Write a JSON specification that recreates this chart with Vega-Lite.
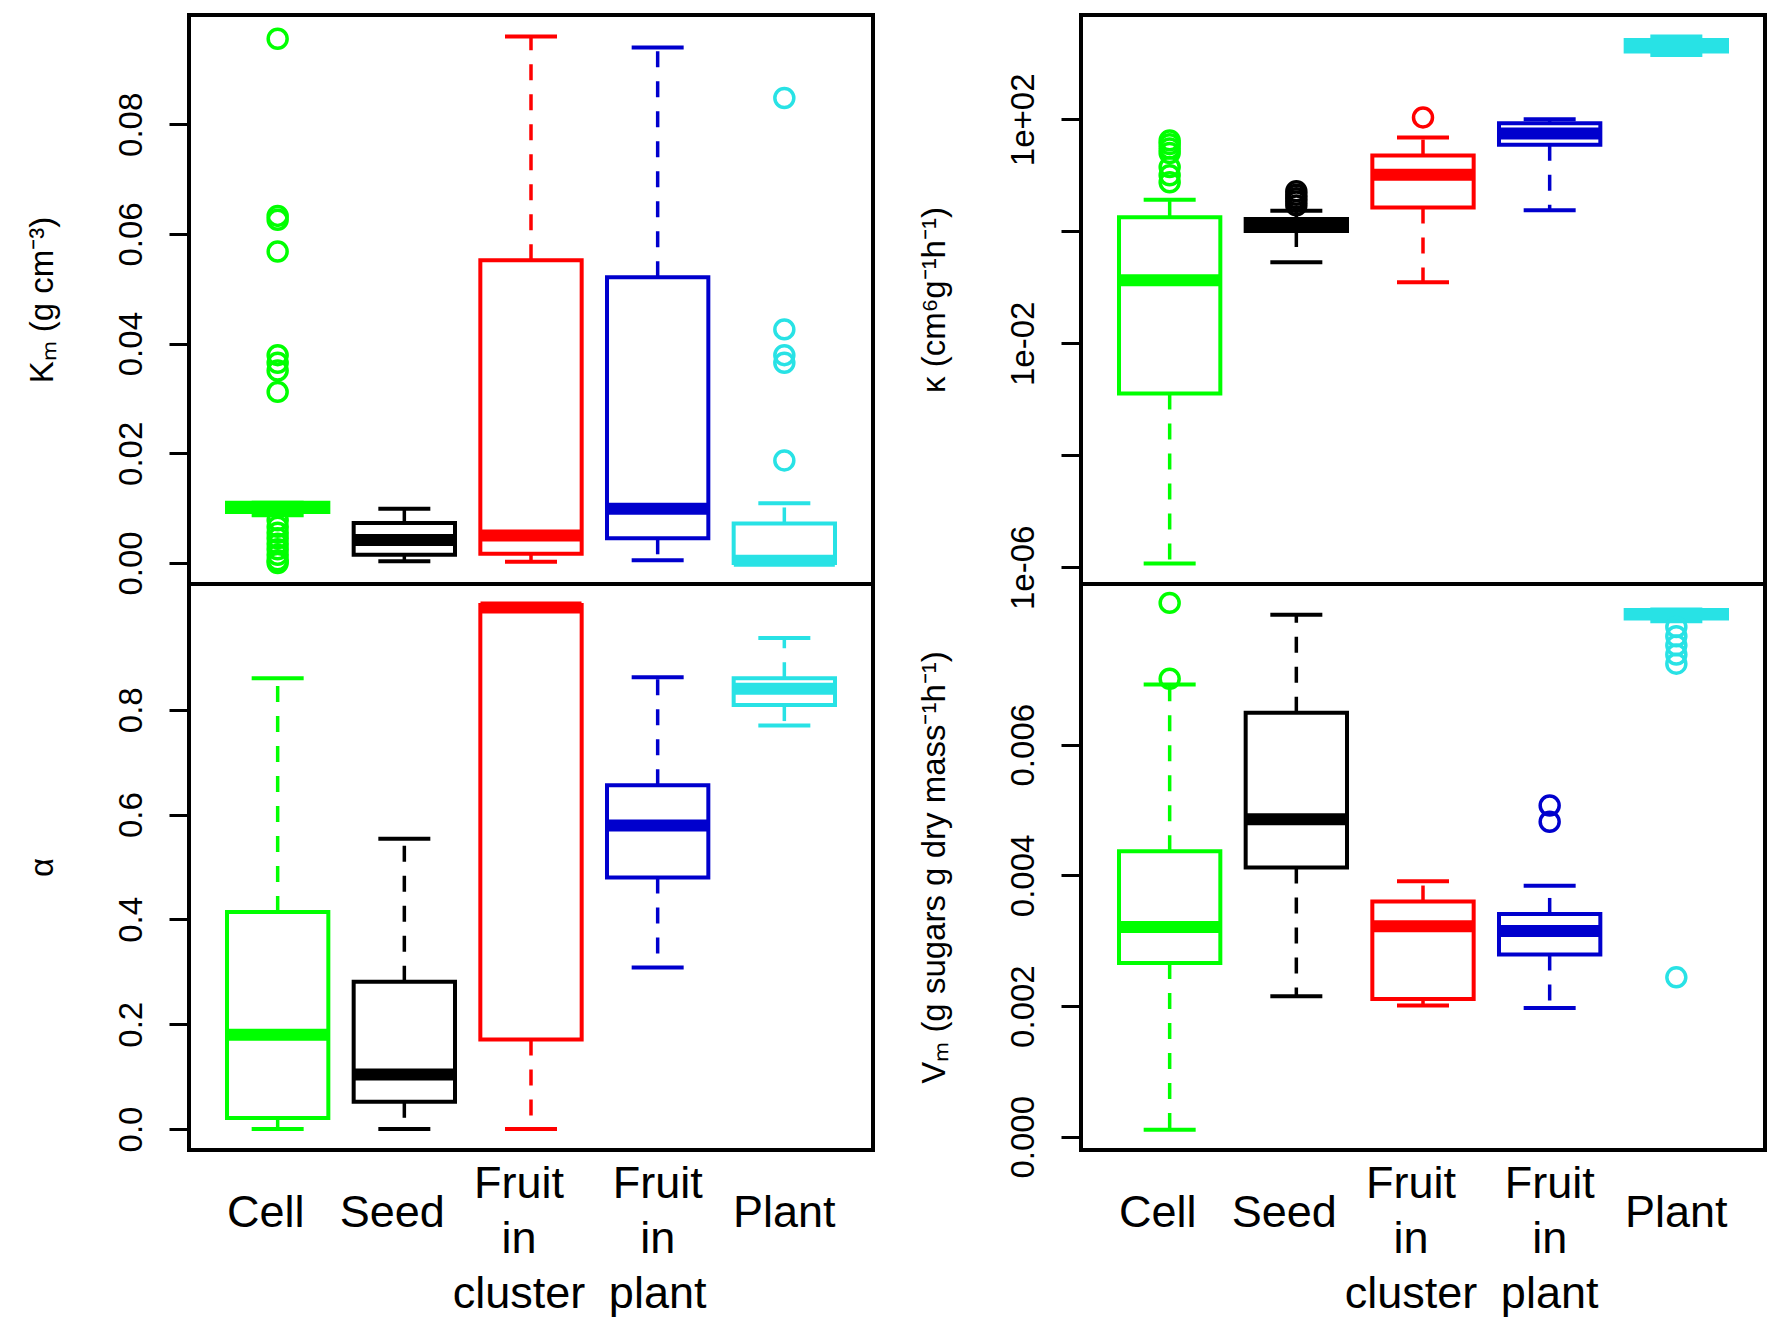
{
  "$schema": "https://vega.github.io/schema/vega-lite/v6.json",
  "background": "white",
  "padding": {"left": 24, "top": 13, "right": 0, "bottom": 0},
  "bounds": "flush",
  "columns": 2,
  "spacing": {"row": 0, "column": 208},
  "config": {
    "font": "Liberation Sans",
    "view": {"stroke": "black", "strokeWidth": 4},
    "tick": {"opacity": 1},
    "axis": {"grid": false, "domain": false, "labelColor": "black", "titleColor": "black", "tickColor": "black", "labelOverlap": false, "labelBound": false, "labelFlush": false},
    "axisY": {"labelAngle": -90, "labelAlign": "center", "labelBaseline": "bottom", "labelFontSize": 33, "labelPadding": 21, "tickSize": 20, "tickWidth": 3, "titleFontSize": 33, "titleFontWeight": "normal", "titlePadding": 56},
    "axisX": {"ticks": false, "tickSize": 0, "labelAngle": 0, "labelFontSize": 45, "labelLineHeight": 55, "labelBaseline": "middle", "labelLimit": 400}
  },
  "datasets": {
    "km_box": [
      {"g": "Cell", "lo": 0.0087, "q1": 0.0093, "med": 0.0100, "q3": 0.0110, "hi": 0.0110},
      {"g": "Seed", "lo": 0.0003, "q1": 0.0015, "med": 0.0042, "q3": 0.0073, "hi": 0.0099},
      {"g": "Fruit in cluster", "lo": 0.0002, "q1": 0.0017, "med": 0.0050, "q3": 0.0552, "hi": 0.0960},
      {"g": "Fruit in plant", "lo": 0.0005, "q1": 0.0045, "med": 0.0099, "q3": 0.0521, "hi": 0.0940},
      {"g": "Plant", "lo": 0.0, "q1": 0.0, "med": 0.0004, "q3": 0.0072, "hi": 0.0109}
    ],
    "km_out": [
      {"g": "Cell", "v": 0.0956}, {"g": "Cell", "v": 0.0633}, {"g": "Cell", "v": 0.0626}, {"g": "Cell", "v": 0.0568},
      {"g": "Cell", "v": 0.0379}, {"g": "Cell", "v": 0.0365}, {"g": "Cell", "v": 0.0351}, {"g": "Cell", "v": 0.0312},
      {"g": "Cell", "v": 0.0078}, {"g": "Cell", "v": 0.0066}, {"g": "Cell", "v": 0.0055}, {"g": "Cell", "v": 0.0045},
      {"g": "Cell", "v": 0.0035}, {"g": "Cell", "v": 0.0025}, {"g": "Cell", "v": 0.0015}, {"g": "Cell", "v": 0.0005},
      {"g": "Cell", "v": 0.0},
      {"g": "Plant", "v": 0.0848}, {"g": "Plant", "v": 0.0426}, {"g": "Plant", "v": 0.0379}, {"g": "Plant", "v": 0.0365}, {"g": "Plant", "v": 0.0187}
    ],
    "al_box": [
      {"g": "Cell", "lo": 0.0, "q1": 0.021, "med": 0.180, "q3": 0.414, "hi": 0.860},
      {"g": "Seed", "lo": 0.0, "q1": 0.052, "med": 0.104, "q3": 0.281, "hi": 0.554},
      {"g": "Fruit in cluster", "lo": 0.0, "q1": 0.171, "med": 0.995, "q3": 1.0, "hi": 1.0},
      {"g": "Fruit in plant", "lo": 0.308, "q1": 0.480, "med": 0.579, "q3": 0.656, "hi": 0.862},
      {"g": "Plant", "lo": 0.770, "q1": 0.809, "med": 0.840, "q3": 0.860, "hi": 0.937}
    ],
    "kap_box": [
      {"g": "Cell", "lo": 0.00000117, "q1": 0.00127, "med": 0.133, "q3": 1.79, "hi": 3.65},
      {"g": "Seed", "lo": 0.279, "q1": 1.01, "med": 1.29, "q3": 1.66, "hi": 2.33},
      {"g": "Fruit in cluster", "lo": 0.123, "q1": 2.66, "med": 10.2, "q3": 22.5, "hi": 47.5},
      {"g": "Fruit in plant", "lo": 2.38, "q1": 35, "med": 56, "q3": 85, "hi": 100},
      {"g": "Plant", "lo": 1406, "q1": 1622, "med": 2037, "q3": 2606, "hi": 3013}
    ],
    "kap_out": [
      {"g": "Cell", "v": 42}, {"g": "Cell", "v": 36}, {"g": "Cell", "v": 30}, {"g": "Cell", "v": 25},
      {"g": "Cell", "v": 14}, {"g": "Cell", "v": 10}, {"g": "Cell", "v": 7.5},
      {"g": "Seed", "v": 5.2}, {"g": "Seed", "v": 4.5}, {"g": "Seed", "v": 3.9}, {"g": "Seed", "v": 3.4}, {"g": "Seed", "v": 2.9},
      {"g": "Fruit in cluster", "v": 108}
    ],
    "vm_box": [
      {"g": "Cell", "lo": 0.000109, "q1": 0.00266, "med": 0.00321, "q3": 0.00437, "hi": 0.00692},
      {"g": "Seed", "lo": 0.00215, "q1": 0.00412, "med": 0.00486, "q3": 0.00649, "hi": 0.00799},
      {"g": "Fruit in cluster", "lo": 0.00201, "q1": 0.00211, "med": 0.00322, "q3": 0.00360, "hi": 0.00391},
      {"g": "Fruit in plant", "lo": 0.00197, "q1": 0.00279, "med": 0.00315, "q3": 0.00341, "hi": 0.00384},
      {"g": "Plant", "lo": 0.00789, "q1": 0.00793, "med": 0.00800, "q3": 0.00806, "hi": 0.00807}
    ],
    "vm_out": [
      {"g": "Cell", "v": 0.00817}, {"g": "Cell", "v": 0.00701},
      {"g": "Fruit in plant", "v": 0.00507}, {"g": "Fruit in plant", "v": 0.00482},
      {"g": "Plant", "v": 0.00780}, {"g": "Plant", "v": 0.00766}, {"g": "Plant", "v": 0.00752}, {"g": "Plant", "v": 0.00738}, {"g": "Plant", "v": 0.00724}, {"g": "Plant", "v": 0.00244}
    ]
  },
  "resolve": {"scale": {"x": "independent", "y": "independent"}},
  "concat": [
    {
      "width": 684, "height": 569,
      "data": {"name": "km_box"},
      "encoding": {
        "x": {"field": "g", "type": "nominal", "scale": {"type": "band", "domain": ["Cell", "Seed", "Fruit in cluster", "Fruit in plant", "Plant"], "paddingInner": 0, "paddingOuter": 0.2}, "axis": null},
        "color": {"field": "g", "type": "nominal", "scale": {"domain": ["Cell", "Seed", "Fruit in cluster", "Fruit in plant", "Plant"], "range": ["#00FF00", "#000000", "#FF0000", "#0000CD", "#28E2E5"]}, "legend": null}
      },
      "layer": [
        {"mark": {"type": "rule", "strokeDash": [16, 14], "strokeWidth": 3.5}, "encoding": {"y": {"field": "q1", "type": "quantitative", "title": "Kₘ (g cm⁻³)", "scale": {"domain": [-0.00384, 0.09994], "nice": false, "zero": false}, "axis": {"values": [0, 0.02, 0.04, 0.06, 0.08], "format": ".2f"}}, "y2": {"field": "lo"}}},
        {"mark": {"type": "rule", "strokeDash": [16, 14], "strokeWidth": 3.5}, "encoding": {"y": {"field": "q3", "type": "quantitative", "title": "Kₘ (g cm⁻³)"}, "y2": {"field": "hi"}}},
        {"mark": {"type": "tick", "size": 52, "thickness": 4, "opacity": 1}, "encoding": {"y": {"field": "lo", "type": "quantitative", "title": "Kₘ (g cm⁻³)"}}},
        {"mark": {"type": "tick", "size": 52, "thickness": 4, "opacity": 1}, "encoding": {"y": {"field": "hi", "type": "quantitative", "title": "Kₘ (g cm⁻³)"}}},
        {"mark": {"type": "bar", "filled": false, "strokeWidth": 4, "width": {"band": 0.8}}, "encoding": {"y": {"field": "q1", "type": "quantitative", "title": "Kₘ (g cm⁻³)"}, "y2": {"field": "q3"}}},
        {"mark": {"type": "tick", "size": 101, "thickness": 12, "opacity": 1}, "encoding": {"y": {"field": "med", "type": "quantitative", "title": "Kₘ (g cm⁻³)"}}},
        {"data": {"name": "km_out"}, "mark": {"type": "point", "shape": "circle", "filled": false, "size": 360, "strokeWidth": 3.5, "opacity": 1}, "encoding": {"y": {"field": "v", "type": "quantitative", "title": "Kₘ (g cm⁻³)"}}}
      ]
    },
    {
      "width": 684, "height": 569,
      "data": {"name": "kap_box"},
      "encoding": {
        "x": {"field": "g", "type": "nominal", "scale": {"type": "band", "domain": ["Cell", "Seed", "Fruit in cluster", "Fruit in plant", "Plant"], "paddingInner": 0, "paddingOuter": 0.2}, "axis": null},
        "color": {"field": "g", "type": "nominal", "scale": {"domain": ["Cell", "Seed", "Fruit in cluster", "Fruit in plant", "Plant"], "range": ["#00FF00", "#000000", "#FF0000", "#0000CD", "#28E2E5"]}, "legend": null}
      },
      "layer": [
        {"mark": {"type": "rule", "strokeDash": [16, 14], "strokeWidth": 3.5}, "encoding": {"y": {"field": "q1", "type": "quantitative", "title": "κ (cm⁶g⁻¹h⁻¹)", "scale": {"type": "log", "domain": [5.04e-7, 7278], "nice": false}, "axis": {"values": [0.000001, 0.0001, 0.01, 1, 100], "labelExpr": "datum.value == 100 ? '1e+02' : datum.value == 0.01 ? '1e-02' : datum.value == 0.000001 ? '1e-06' : ''"}}, "y2": {"field": "lo"}}},
        {"mark": {"type": "rule", "strokeDash": [16, 14], "strokeWidth": 3.5}, "encoding": {"y": {"field": "q3", "type": "quantitative", "title": "κ (cm⁶g⁻¹h⁻¹)"}, "y2": {"field": "hi"}}},
        {"mark": {"type": "tick", "size": 52, "thickness": 4, "opacity": 1}, "encoding": {"y": {"field": "lo", "type": "quantitative", "title": "κ (cm⁶g⁻¹h⁻¹)"}}},
        {"mark": {"type": "tick", "size": 52, "thickness": 4, "opacity": 1}, "encoding": {"y": {"field": "hi", "type": "quantitative", "title": "κ (cm⁶g⁻¹h⁻¹)"}}},
        {"mark": {"type": "bar", "filled": false, "strokeWidth": 4, "width": {"band": 0.8}}, "encoding": {"y": {"field": "q1", "type": "quantitative", "title": "κ (cm⁶g⁻¹h⁻¹)"}, "y2": {"field": "q3"}}},
        {"mark": {"type": "tick", "size": 101, "thickness": 12, "opacity": 1}, "encoding": {"y": {"field": "med", "type": "quantitative", "title": "κ (cm⁶g⁻¹h⁻¹)"}}},
        {"data": {"name": "kap_out"}, "mark": {"type": "point", "shape": "circle", "filled": false, "size": 360, "strokeWidth": 3.5, "opacity": 1}, "encoding": {"y": {"field": "v", "type": "quantitative", "title": "κ (cm⁶g⁻¹h⁻¹)"}}}
      ]
    },
    {
      "width": 684, "height": 566,
      "data": {"name": "al_box"},
      "encoding": {
        "x": {"field": "g", "type": "nominal", "scale": {"type": "band", "domain": ["Cell", "Seed", "Fruit in cluster", "Fruit in plant", "Plant"], "paddingInner": 0, "paddingOuter": 0.2}, "axis": {"title": null, "labelPadding": {"condition": {"test": "indexof(datum.value, 'Fruit') == 0", "value": 33}, "value": 62}, "labelOffset": {"condition": {"test": "datum.value != 'Fruit in plant' && datum.value != 'Plant'", "value": -12}, "value": 0}, "labelExpr": "datum.value == 'Fruit in cluster' ? ['Fruit','in','cluster'] : datum.value == 'Fruit in plant' ? ['Fruit','in','plant'] : datum.value"}},
        "color": {"field": "g", "type": "nominal", "scale": {"domain": ["Cell", "Seed", "Fruit in cluster", "Fruit in plant", "Plant"], "range": ["#00FF00", "#000000", "#FF0000", "#0000CD", "#28E2E5"]}, "legend": null}
      },
      "layer": [
        {"mark": {"type": "rule", "strokeDash": [16, 14], "strokeWidth": 3.5}, "encoding": {"y": {"field": "q1", "type": "quantitative", "title": "α", "scale": {"domain": [-0.04, 1.04], "nice": false, "zero": false}, "axis": {"values": [0, 0.2, 0.4, 0.6, 0.8], "format": ".1f"}}, "y2": {"field": "lo"}}},
        {"mark": {"type": "rule", "strokeDash": [16, 14], "strokeWidth": 3.5}, "encoding": {"y": {"field": "q3", "type": "quantitative", "title": "α"}, "y2": {"field": "hi"}}},
        {"mark": {"type": "tick", "size": 52, "thickness": 4, "opacity": 1}, "encoding": {"y": {"field": "lo", "type": "quantitative", "title": "α"}}},
        {"mark": {"type": "tick", "size": 52, "thickness": 4, "opacity": 1}, "encoding": {"y": {"field": "hi", "type": "quantitative", "title": "α"}}},
        {"mark": {"type": "bar", "filled": false, "strokeWidth": 4, "width": {"band": 0.8}}, "encoding": {"y": {"field": "q1", "type": "quantitative", "title": "α"}, "y2": {"field": "q3"}}},
        {"mark": {"type": "tick", "size": 101, "thickness": 12, "opacity": 1}, "encoding": {"y": {"field": "med", "type": "quantitative", "title": "α"}}}
      ]
    },
    {
      "width": 684, "height": 566,
      "data": {"name": "vm_box"},
      "encoding": {
        "x": {"field": "g", "type": "nominal", "scale": {"type": "band", "domain": ["Cell", "Seed", "Fruit in cluster", "Fruit in plant", "Plant"], "paddingInner": 0, "paddingOuter": 0.2}, "axis": {"title": null, "labelPadding": {"condition": {"test": "indexof(datum.value, 'Fruit') == 0", "value": 33}, "value": 62}, "labelOffset": {"condition": {"test": "datum.value != 'Fruit in plant' && datum.value != 'Plant'", "value": -12}, "value": 0}, "labelExpr": "datum.value == 'Fruit in cluster' ? ['Fruit','in','cluster'] : datum.value == 'Fruit in plant' ? ['Fruit','in','plant'] : datum.value"}},
        "color": {"field": "g", "type": "nominal", "scale": {"domain": ["Cell", "Seed", "Fruit in cluster", "Fruit in plant", "Plant"], "range": ["#00FF00", "#000000", "#FF0000", "#0000CD", "#28E2E5"]}, "legend": null}
      },
      "layer": [
        {"mark": {"type": "rule", "strokeDash": [16, 14], "strokeWidth": 3.5}, "encoding": {"y": {"field": "q1", "type": "quantitative", "title": "Vₘ (g sugars g dry mass⁻¹h⁻¹)", "scale": {"domain": [-0.000202, 0.008459], "nice": false, "zero": false}, "axis": {"values": [0, 0.002, 0.004, 0.006], "format": ".3f"}}, "y2": {"field": "lo"}}},
        {"mark": {"type": "rule", "strokeDash": [16, 14], "strokeWidth": 3.5}, "encoding": {"y": {"field": "q3", "type": "quantitative", "title": "Vₘ (g sugars g dry mass⁻¹h⁻¹)"}, "y2": {"field": "hi"}}},
        {"mark": {"type": "tick", "size": 52, "thickness": 4, "opacity": 1}, "encoding": {"y": {"field": "lo", "type": "quantitative", "title": "Vₘ (g sugars g dry mass⁻¹h⁻¹)"}}},
        {"mark": {"type": "tick", "size": 52, "thickness": 4, "opacity": 1}, "encoding": {"y": {"field": "hi", "type": "quantitative", "title": "Vₘ (g sugars g dry mass⁻¹h⁻¹)"}}},
        {"mark": {"type": "bar", "filled": false, "strokeWidth": 4, "width": {"band": 0.8}}, "encoding": {"y": {"field": "q1", "type": "quantitative", "title": "Vₘ (g sugars g dry mass⁻¹h⁻¹)"}, "y2": {"field": "q3"}}},
        {"mark": {"type": "tick", "size": 101, "thickness": 12, "opacity": 1}, "encoding": {"y": {"field": "med", "type": "quantitative", "title": "Vₘ (g sugars g dry mass⁻¹h⁻¹)"}}},
        {"data": {"name": "vm_out"}, "mark": {"type": "point", "shape": "circle", "filled": false, "size": 360, "strokeWidth": 3.5, "opacity": 1}, "encoding": {"y": {"field": "v", "type": "quantitative", "title": "Vₘ (g sugars g dry mass⁻¹h⁻¹)"}}}
      ]
    }
  ]
}
